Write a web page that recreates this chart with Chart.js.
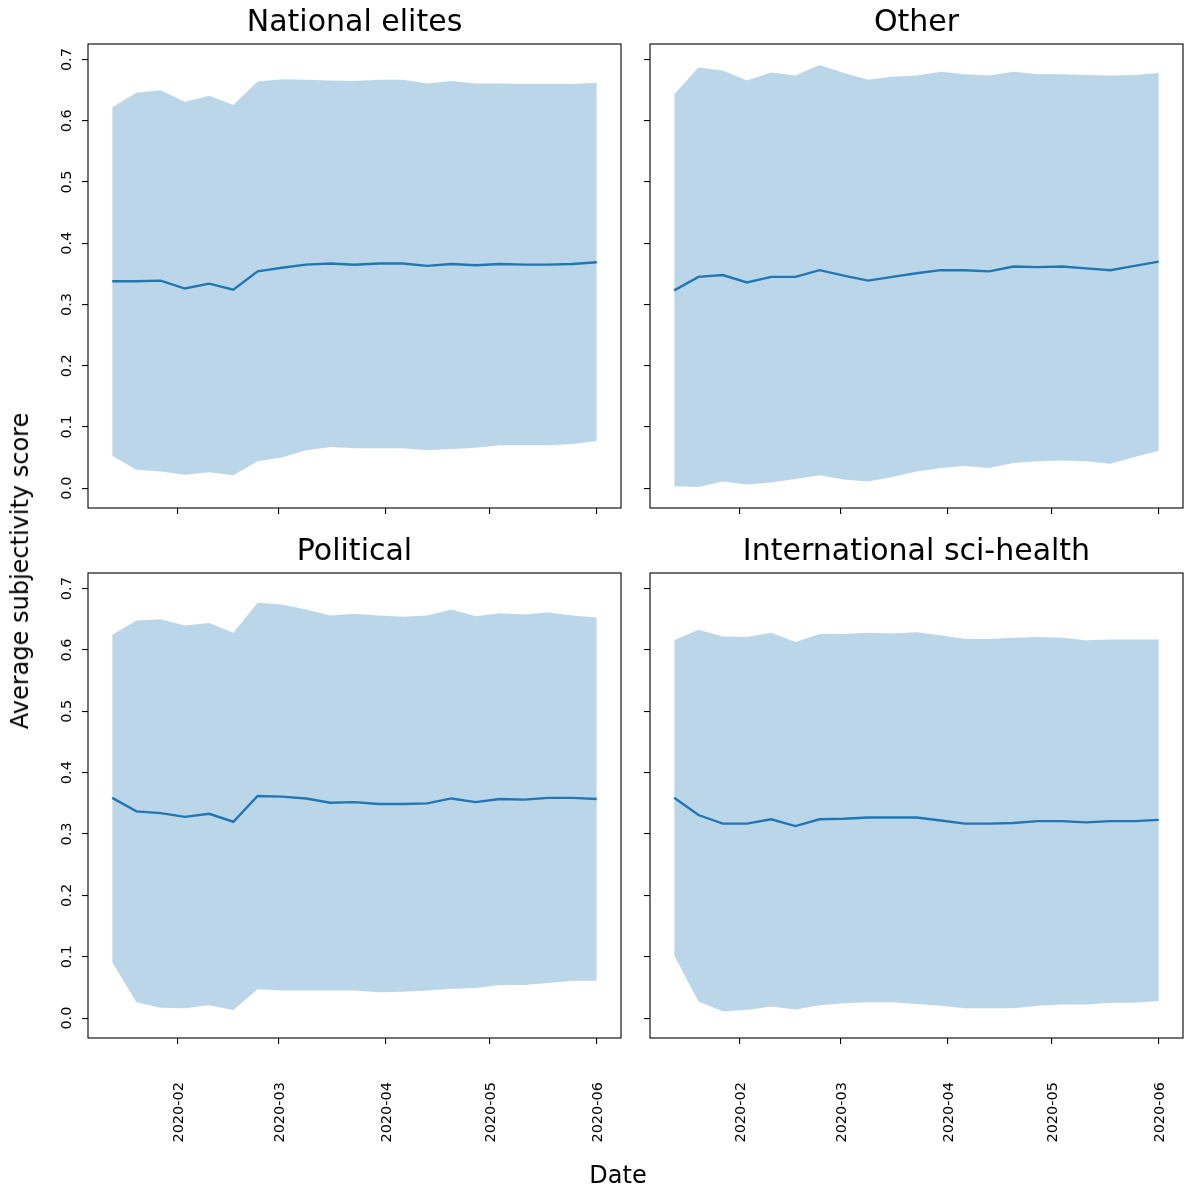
<!DOCTYPE html>
<html>
<head>
<meta charset="utf-8">
<script src="https://cdn.jsdelivr.net/npm/chart.js@4.4.1/dist/chart.umd.min.js"></script>
<style>
  html, body { margin: 0; padding: 0; background: #ffffff; }
  #fig { position: relative; width: 1184px; height: 1191px; overflow: hidden; background: #ffffff; }
  #fig canvas { position: absolute; left: 0; top: 0; }
  .axlab { position: absolute; font-family: "DejaVu Sans", sans-serif; color: #000; white-space: nowrap; line-height: 1; }
  #xlab { font-size: 24px; left: 0; width: 1236px; text-align: center; top: 1163px; }
  #ylab { font-size: 24px; left: 20px; top: 571px; transform: translate(-50%, -50%) rotate(-90deg); }
</style>
</head>
<body>
<div id="fig">
  <canvas id="c0" width="1184" height="1191"></canvas>
  <canvas id="c1" width="1184" height="1191"></canvas>
  <canvas id="c2" width="1184" height="1191"></canvas>
  <canvas id="c3" width="1184" height="1191"></canvas>
  <div class="axlab" id="xlab">Date</div>
  <div class="axlab" id="ylab">Average subjectivity score</div>
</div>
<script>
// Weekly observation dates
const weekDates = [
  '2020-01-13','2020-01-20','2020-01-27','2020-02-03','2020-02-10','2020-02-17','2020-02-24',
  '2020-03-02','2020-03-09','2020-03-16','2020-03-23','2020-03-30','2020-04-06','2020-04-13',
  '2020-04-20','2020-04-27','2020-05-04','2020-05-11','2020-05-18','2020-05-25','2020-06-01'
];
const monthTicks = ['2020-02-01','2020-03-01','2020-04-01','2020-05-01','2020-06-01'];
const yTicks = [0.0, 0.1, 0.2, 0.3, 0.4, 0.5, 0.6, 0.7];

const panelTitles = ['National elites', 'Other', 'Political', 'International sci-health'];

// National elites: weekly mean and mean ± one standard deviation
const elitesMean  = [0.338,0.338,0.339,0.326,0.334,0.324,0.354,0.360,0.365,0.367,0.365,0.367,0.367,0.363,0.366,0.364,0.366,0.365,0.365,0.366,0.369];
const elitesUpper = [0.622,0.646,0.650,0.631,0.641,0.626,0.664,0.668,0.667,0.666,0.665,0.667,0.667,0.661,0.665,0.661,0.661,0.660,0.660,0.660,0.662];
const elitesLower = [0.053,0.030,0.027,0.022,0.026,0.021,0.044,0.050,0.062,0.067,0.065,0.065,0.065,0.062,0.064,0.066,0.070,0.070,0.070,0.072,0.077];

// Other
const otherMean  = [0.323,0.345,0.348,0.336,0.345,0.345,0.356,0.347,0.339,0.345,0.351,0.356,0.356,0.354,0.362,0.361,0.362,0.359,0.356,0.363,0.370];
const otherUpper = [0.643,0.687,0.682,0.666,0.679,0.674,0.691,0.678,0.667,0.672,0.674,0.680,0.676,0.674,0.680,0.676,0.676,0.675,0.674,0.675,0.678];
const otherLower = [0.003,0.002,0.011,0.006,0.009,0.015,0.021,0.014,0.011,0.018,0.027,0.033,0.036,0.033,0.041,0.044,0.045,0.044,0.040,0.051,0.061];

// Political
const politicalMean  = [0.359,0.337,0.334,0.328,0.333,0.320,0.362,0.361,0.358,0.351,0.352,0.349,0.349,0.350,0.358,0.352,0.357,0.356,0.359,0.359,0.357];
const politicalUpper = [0.625,0.648,0.650,0.640,0.644,0.628,0.677,0.674,0.666,0.656,0.659,0.656,0.654,0.656,0.666,0.655,0.660,0.658,0.661,0.656,0.653];
const politicalLower = [0.091,0.026,0.017,0.016,0.021,0.013,0.047,0.045,0.045,0.045,0.045,0.042,0.043,0.045,0.048,0.049,0.054,0.054,0.057,0.061,0.061];

// International sci-health
const scihealthMean  = [0.359,0.331,0.317,0.317,0.324,0.313,0.324,0.325,0.327,0.327,0.327,0.322,0.317,0.317,0.318,0.321,0.321,0.319,0.321,0.321,0.323];
const scihealthUpper = [0.616,0.633,0.622,0.621,0.628,0.613,0.626,0.626,0.628,0.627,0.629,0.624,0.618,0.618,0.620,0.621,0.620,0.616,0.617,0.617,0.617];
const scihealthLower = [0.102,0.027,0.011,0.013,0.019,0.014,0.021,0.024,0.026,0.026,0.023,0.020,0.016,0.016,0.016,0.020,0.022,0.022,0.025,0.025,0.028];

const panelSeries = [
  [elitesMean, elitesUpper, elitesLower],
  [otherMean, otherUpper, otherLower],
  [politicalMean, politicalUpper, politicalLower],
  [scihealthMean, scihealthUpper, scihealthLower]
];

const DAY = 86400000;
const toDay = s => Date.parse(s + 'T00:00:00Z') / DAY;
const xDays = weekDates.map(toDay);
const monthDays = monthTicks.map(toDay);

// Shared axis limits with a 5% margin, as in a shared-axes subplot grid
const xSpan = xDays[xDays.length - 1] - xDays[0];
const xMin = xDays[0] - 0.05 * xSpan;
const xMax = xDays[xDays.length - 1] + 0.05 * xSpan;
const allVals = [].concat(...panelSeries.map(s => s[1].concat(s[2])));
const yLo = Math.min(...allVals), yHi = Math.max(...allVals);
const yMin = yLo - 0.05 * (yHi - yLo);
const yMax = yHi + 0.05 * (yHi - yLo);

const BLUE = '#1f77b4';
const BAND = 'rgba(31,119,180,0.3)';
const FONT = '"DejaVu Sans", sans-serif';
const TICK_FONT = '14.5px ' + FONT;

// Plot-area boxes [left, top, right, bottom] in page pixels
const W = 1184, H = 1191;
const boxes = [
  [88, 44, 621, 508],
  [650, 44, 1183, 508],
  [88, 573, 621, 1038],
  [650, 573, 1183, 1038]
];

const pad2 = n => String(n).padStart(2, '0');
const monthLabel = d => {
  const dt = new Date(d * DAY);
  return dt.getUTCFullYear() + '-' + pad2(dt.getUTCMonth() + 1);
};

function makePanel(idx) {
  const [mean, upper, lower] = panelSeries[idx];
  const box = boxes[idx];
  const showY = idx % 2 === 0;
  const showX = idx >= 2;
  const pts = arr => arr.map((v, i) => ({ x: xDays[i], y: v }));

  const decor = {
    id: 'decor' + idx,
    afterDraw(chart) {
      const { ctx, chartArea: a } = chart;
      const xs = chart.scales.x, ys = chart.scales.y;
      ctx.save();
      // axes frame
      ctx.strokeStyle = '#000';
      ctx.lineWidth = 1.1;
      ctx.strokeRect(a.left, a.top, a.right - a.left, a.bottom - a.top);
      // title
      ctx.fillStyle = '#000';
      ctx.font = '30px ' + FONT;
      ctx.textAlign = 'center';
      ctx.textBaseline = 'alphabetic';
      ctx.fillText(panelTitles[idx], (a.left + a.right) / 2, a.top - 13);
      ctx.font = TICK_FONT;
      // rotated y tick labels
      if (showY) {
        ys.ticks.forEach(t => {
          const py = ys.getPixelForValue(t.value);
          ctx.save();
          ctx.translate(a.left - 17, py);
          ctx.rotate(-Math.PI / 2);
          ctx.textAlign = 'center';
          ctx.textBaseline = 'alphabetic';
          ctx.fillText(t.value.toFixed(1), 0, 0);
          ctx.restore();
        });
      }
      // rotated date tick labels
      if (showX) {
        xs.ticks.forEach(t => {
          const px = xs.getPixelForValue(t.value);
          ctx.save();
          ctx.translate(px + 5.2, a.bottom + 44);
          ctx.rotate(-Math.PI / 2);
          ctx.textAlign = 'right';
          ctx.textBaseline = 'alphabetic';
          ctx.fillText(monthLabel(t.value), 0, 0);
          ctx.restore();
        });
      }
      ctx.restore();
    }
  };

  return new Chart(document.getElementById('c' + idx), {
    type: 'line',
    data: {
      datasets: [
        { data: pts(mean), borderColor: BLUE, borderWidth: 2.4, pointRadius: 0, fill: false, tension: 0 },
        { data: pts(upper), borderWidth: 0, borderColor: 'rgba(0,0,0,0)', backgroundColor: BAND, pointRadius: 0, fill: '+1', tension: 0 },
        { data: pts(lower), borderWidth: 0, borderColor: 'rgba(0,0,0,0)', pointRadius: 0, fill: false, tension: 0 }
      ]
    },
    options: {
      responsive: false,
      animation: false,
      events: [],
      layout: { padding: { left: box[0], top: box[1], right: W - box[2], bottom: H - box[3] } },
      plugins: { legend: { display: false }, title: { display: false }, tooltip: { enabled: false } },
      scales: {
        x: {
          type: 'linear',
          min: xMin, max: xMax,
          afterFit: s => { s.height = 0; },
          afterBuildTicks: s => { s.ticks = monthDays.map(v => ({ value: v })); },
          ticks: { display: false },
          grid: { display: true, drawOnChartArea: false, drawTicks: true, tickLength: 6, color: '#000', lineWidth: 1.1 },
          border: { display: false }
        },
        y: {
          type: 'linear',
          min: yMin, max: yMax,
          afterFit: s => { s.width = 0; },
          afterBuildTicks: s => { s.ticks = yTicks.map(v => ({ value: v })); },
          ticks: { display: false },
          grid: { display: true, drawOnChartArea: false, drawTicks: true, tickLength: 6, color: '#000', lineWidth: 1.1 },
          border: { display: false }
        }
      }
    },
    plugins: [decor]
  });
}

[0, 1, 2, 3].forEach(makePanel);
</script>
</body>
</html>
